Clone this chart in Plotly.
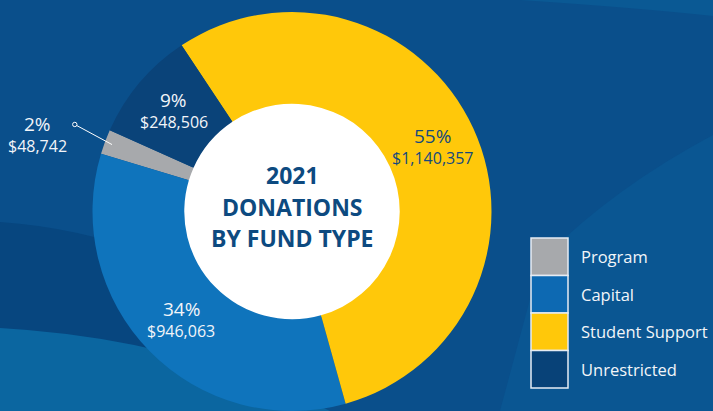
import math
import plotly.graph_objects as go

# ---------------- data ----------------
categories = ["Program", "Capital", "Student Support", "Unrestricted"]
percents = [2, 34, 55, 9]
amounts = ["$48,742", "$946,063", "$1,140,357", "$248,506"]
pct_labels = ["2%", "34%", "55%", "9%"]
title_lines = ["2021", "DONATIONS", "BY FUND TYPE"]

# ---------------- styles ----------------
slice_colors = ["#a7a9ac", "#0f74bc", "#ffc80a", "#0a4379"]
legend_colors = ["#a7a9ac", "#0d69b2", "#ffc80a", "#084278"]
label_colors = ["#f2f5f9", "#f2f5f9", "#14497d", "#f2f5f9"]
W, H = 713, 411
CX, CY, R = 292, 211.5, 199.5
HOLE = 0.54
START = 294  # clockwise angle (from 12 o'clock) where the first slice begins, going counterclockwise
FONT = "Open Sans, sans-serif"


def px(x):
    return x / W


def py(y):
    return 1 - y / H


total = sum(percents)
# plotly's counterclockwise pies end the first slice at `rotation`
rotation = START - 360 * percents[0] / total

fig = go.Figure()
fig.add_trace(go.Pie(
    labels=categories,
    values=percents,
    hole=HOLE,
    sort=False,
    direction="counterclockwise",
    rotation=rotation,
    marker=dict(colors=slice_colors, line=dict(width=0)),
    textinfo="none",
    hoverinfo="label+value",
    showlegend=False,
    domain=dict(x=[px(CX - R), px(CX + R)], y=[0, (2 * R) / H]),
))

shapes = []
# background waves
shapes.append(dict(type="path", xref="paper", yref="paper", layer="below",
                   path=f"M {px(0)},{py(222)} Q {px(150)},{py(232)} {px(300)},{py(330)} L {px(300)},0 L 0,0 Z",
                   fillcolor="#07467f", line=dict(width=0)))
shapes.append(dict(type="path", xref="paper", yref="paper", layer="below",
                   path=f"M {px(0)},{py(328)} Q {px(180)},{py(338)} {px(330)},{py(411)} L 0,0 Z",
                   fillcolor="#0b66a0", line=dict(width=0)))
shapes.append(dict(type="path", xref="paper", yref="paper", layer="below",
                   path=f"M {px(713)},{py(135)} Q {px(610)},{py(190)} {px(540)},{py(262)} L {px(500)},{py(411)} L 1,0 Z",
                   fillcolor="#0a5692", line=dict(width=0)))
shapes.append(dict(type="path", xref="paper", yref="paper", layer="below",
                   path=f"M {px(520)},1 L 1,1 L 1,{py(16)} Q {px(640)},{py(8)} {px(520)},1 Z",
                   fillcolor="#0a5994", line=dict(width=0)))
# white centre behind the hole
hr = HOLE * R + 1
shapes.append(dict(type="circle", xref="paper", yref="paper", layer="below",
                   x0=px(CX - hr), x1=px(CX + hr), y0=py(CY + hr), y1=py(CY - hr),
                   fillcolor="white", line=dict(width=0)))

annotations = []
# slice labels at mid-angles computed from the values
start = START
for i, v in enumerate(percents):
    span = 360 * v / total
    mid = start - span / 2
    start -= span
    a = math.radians(mid)
    if categories[i] == "Program":
        x1, y1 = CX + 192 * math.sin(a), CY - 192 * math.cos(a)
        x2, y2 = CX + 234 * math.sin(a + 0.025), CY - 234 * math.cos(a + 0.025)
        shapes.append(dict(type="line", xref="paper", yref="paper",
                           x0=px(x1), y0=py(y1), x1=px(x2), y1=py(y2),
                           line=dict(color="white", width=1)))
        shapes.append(dict(type="circle", xref="paper", yref="paper",
                           x0=px(x2 - 2.2), x1=px(x2 + 2.2), y0=py(y2 + 2.2), y1=py(y2 - 2.2),
                           fillcolor="#0a4b86", line=dict(color="white", width=1)))
        lx, ly = x2 - 37, y2 + 11
    else:
        r = 155
        lx, ly = CX + r * math.sin(a), CY - r * math.cos(a)
    annotations.append(dict(x=px(lx), y=py(ly - 11), xref="paper", yref="paper",
                            text=pct_labels[i], showarrow=False, xanchor="center", yanchor="middle",
                            font=dict(family=FONT, size=19, color=label_colors[i])))
    annotations.append(dict(x=px(lx), y=py(ly + 11), xref="paper", yref="paper",
                            text=amounts[i], showarrow=False, xanchor="center", yanchor="middle",
                            font=dict(family=FONT, size=16, color=label_colors[i])))

# centre title
for j, line in enumerate(title_lines):
    annotations.append(dict(x=px(CX), y=py(175 + 31.7 * j), xref="paper", yref="paper",
                            text=f"<b>{line}</b>", showarrow=False, xanchor="center", yanchor="middle",
                            font=dict(family=FONT, size=23, color="#0d4a80")))

# legend block
LX0, LX1, LY0, LH = 531, 568, 238, 37.5
for i, cat in enumerate(categories):
    y0 = LY0 + i * LH
    shapes.append(dict(type="rect", xref="paper", yref="paper",
                       x0=px(LX0), x1=px(LX1), y0=py(y0 + LH), y1=py(y0),
                       fillcolor=legend_colors[i], line=dict(color="#e6ecf3", width=1.5)))
    annotations.append(dict(x=px(579), y=py(y0 + LH / 2), xref="paper", yref="paper",
                            text=cat, showarrow=False, xanchor="left", yanchor="middle",
                            font=dict(family=FONT, size=16.5, color="#f2f5f9")))

fig.update_layout(
    width=W, height=H,
    margin=dict(l=0, r=0, t=0, b=0),
    paper_bgcolor="#0a4f8b",
    plot_bgcolor="#0a4f8b",
    shapes=shapes,
    annotations=annotations,
    showlegend=False,
)

fig.write_html("out.html", config={"displayModeBar": False})

with open("out.html", "r", encoding="utf-8") as f:
    html = f.read()
html = html.replace("<head>", "<head><style>html,body{margin:0;padding:0;overflow:hidden;background:#0a4f8b;}</style>", 1)
with open("out.html", "w", encoding="utf-8") as f:
    f.write(html)
